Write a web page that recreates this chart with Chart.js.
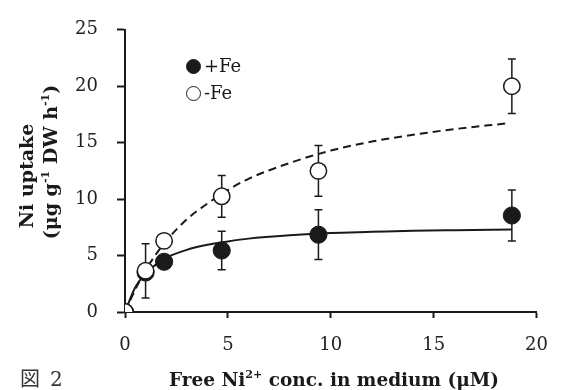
<!DOCTYPE html>
<html>
<head>
<meta charset="utf-8">
<script src="https://cdn.jsdelivr.net/npm/chart.js@4.4.0/dist/chart.umd.min.js"></script>
<style>
  body { margin: 0; background: #fff; }
  #wrap { position: relative; width: 565px; height: 390px; }
  #grafico { position: absolute; left: 0; top: 0; }
  .rot {
    position: absolute;
    transform: translate(-50%, -50%) rotate(-90deg);
    white-space: nowrap;
    font-family: "DejaVu Serif", serif;
    font-weight: bold;
    font-size: 19px;
    color: #1a1a1a;
  }
  .rot sup, #tituloX sup { font-size: 11px; vertical-align: 8px; line-height: 0; }
  #tituloX {
    position: absolute; left: 334px; top: 379px;
    transform: translate(-50%, -50%);
    white-space: nowrap;
    font-family: "DejaVu Serif", serif; font-weight: bold; font-size: 18.5px; color: #1a1a1a;
  }
  #fig {
    position: absolute; left: 20px; top: 363px;
    font-family: "Noto Sans CJK JP", sans-serif; font-size: 20px; color: #333;
  }
  #fig span { font-family: "DejaVu Serif", serif; margin-left: 10px; }
  .leg {
    position: absolute; font-family: "DejaVu Serif", serif; font-size: 18px; color: #1a1a1a;
  }
  .dot {
    position: absolute; width: 15px; height: 15px; border-radius: 50%;
    box-sizing: border-box; border: 1.5px solid #1a1a1a;
  }
</style>
</head>
<body>
<div id="wrap">
  <canvas id="grafico" width="565" height="390"></canvas>
  <div class="rot" style="left:26px; top:176px;">Ni uptake</div>
  <div class="rot" style="left:50px; top:162px;">(μg g<sup>-1</sup> DW h<sup>-1</sup>)</div>
  <div id="tituloX">Free Ni<sup>2+</sup> conc. in medium (μM)</div>
  <div id="fig">図<span>2</span></div>
  <div class="dot" style="left:186px; top:59px; background:#1a1a1a;"></div>
  <div class="leg" style="left:204px; top:55px;">+Fe</div>
  <div class="dot" style="left:186px; top:86px; background:#fff;"></div>
  <div class="leg" style="left:204px; top:82px;">-Fe</div>
</div>
<script>
// Concentrações medidas (µM)
const conc = [0, 1, 1.9, 4.7, 9.4, 18.8];
// Absorção de Ni medida
const comFe = [0, 3.5, 4.45, 5.45, 6.85, 8.55];
const semFe = [0, 3.65, 6.3, 10.25, 12.5, 20.0];
// Barras de erro (±)
const erroComFe = [0, 0, 0, 1.7, 2.2, 2.25];
const erroSemFe = [0, 2.4, 0, 1.85, 2.25, 2.42];

// Curvas ajustadas
const curvaComFeX = [0, 0.5, 1, 1.5, 2, 3, 4, 5, 6, 8, 10, 12, 14, 16, 18.8];
const curvaComFeY = [0, 2.2, 3.4, 4.2, 4.8, 5.5, 5.95, 6.25, 6.5, 6.8, 7.0, 7.1, 7.2, 7.25, 7.3];
const curvaSemFeX = [0, 0.5, 1, 1.5, 2, 3, 4, 5, 6, 8, 10, 12, 14, 16, 18.5];
const curvaSemFeY = [0, 2.0, 3.7, 5.1, 6.3, 8.2, 9.6, 10.8, 11.8, 13.2, 14.3, 15.1, 15.7, 16.2, 16.7];

// Ticks dos eixos
const ticksX = [0, 5, 10, 15, 20];
const ticksY = [0, 5, 10, 15, 20, 25];

const preto = "#1a1a1a";
const pares = (xs, ys) => xs.map((x, i) => ({ x: x, y: ys[i] }));

// Desenha as barras de erro atrás dos pontos
const barrasErro = {
  id: "barrasErro",
  beforeDatasetsDraw(chart) {
    const ctx = chart.ctx;
    const sx = chart.scales.x;
    const sy = chart.scales.y;
    ctx.save();
    ctx.strokeStyle = preto;
    ctx.lineWidth = 1.5;
    [[comFe, erroComFe], [semFe, erroSemFe]].forEach(([vals, errs]) => {
      conc.forEach((c, i) => {
        if (!errs[i]) return;
        const px = sx.getPixelForValue(c);
        const top = sy.getPixelForValue(vals[i] + errs[i]);
        const bot = sy.getPixelForValue(vals[i] - errs[i]);
        ctx.beginPath();
        ctx.moveTo(px, top); ctx.lineTo(px, bot);
        ctx.moveTo(px - 4, top); ctx.lineTo(px + 4, top);
        ctx.moveTo(px - 4, bot); ctx.lineTo(px + 4, bot);
        ctx.stroke();
      });
    });
    ctx.restore();
  }
};

const ctx = document.getElementById("grafico").getContext("2d");

new Chart(ctx, {
  type: "scatter",
  data: {
    datasets: [
      {
        label: "-Fe",
        data: pares(conc, semFe),
        pointRadius: 8.2,
        pointBackgroundColor: "#fff",
        pointBorderColor: preto,
        pointBorderWidth: 1.5,
        order: 0
      },
      {
        label: "+Fe",
        data: pares(conc, comFe),
        pointRadius: 8.6,
        pointBackgroundColor: preto,
        pointBorderColor: preto,
        pointBorderWidth: 1,
        order: 1
      },
      {
        label: "curva -Fe",
        type: "line",
        data: pares(curvaSemFeX, curvaSemFeY),
        borderColor: preto,
        borderWidth: 2,
        borderDash: [8, 5],
        pointRadius: 0,
        cubicInterpolationMode: "monotone",
        order: 2
      },
      {
        label: "curva +Fe",
        type: "line",
        data: pares(curvaComFeX, curvaComFeY),
        borderColor: preto,
        borderWidth: 2,
        pointRadius: 0,
        cubicInterpolationMode: "monotone",
        order: 3
      }
    ]
  },
  options: {
    responsive: false,
    animation: false,
    layout: { padding: { left: 0, top: 17, right: 19, bottom: 0 } },
    plugins: { legend: { display: false }, tooltip: { enabled: false } },
    scales: {
      x: {
        type: "linear",
        min: 0,
        max: 20,
        afterBuildTicks: (s) => { s.ticks = ticksX.map((v) => ({ value: v })); },
        afterFit: (s) => { s.height = 78; },
        grid: { drawOnChartArea: false, tickLength: 6, tickWidth: 2, tickColor: preto },
        border: { color: preto, width: 2 },
        ticks: { color: "#222", padding: 17, font: { family: "DejaVu Serif", size: 18 } }
      },
      y: {
        min: 0,
        max: 25,
        afterBuildTicks: (s) => { s.ticks = ticksY.map((v) => ({ value: v })); },
        afterFit: (s) => { s.width = 125; },
        grid: { drawOnChartArea: false, tickLength: 8, tickWidth: 2, tickColor: preto },
        border: { color: preto, width: 2 },
        ticks: { color: "#222", padding: 19, font: { family: "DejaVu Serif", size: 18 } }
      }
    }
  },
  plugins: [barrasErro]
});
</script>
</body>
</html>
